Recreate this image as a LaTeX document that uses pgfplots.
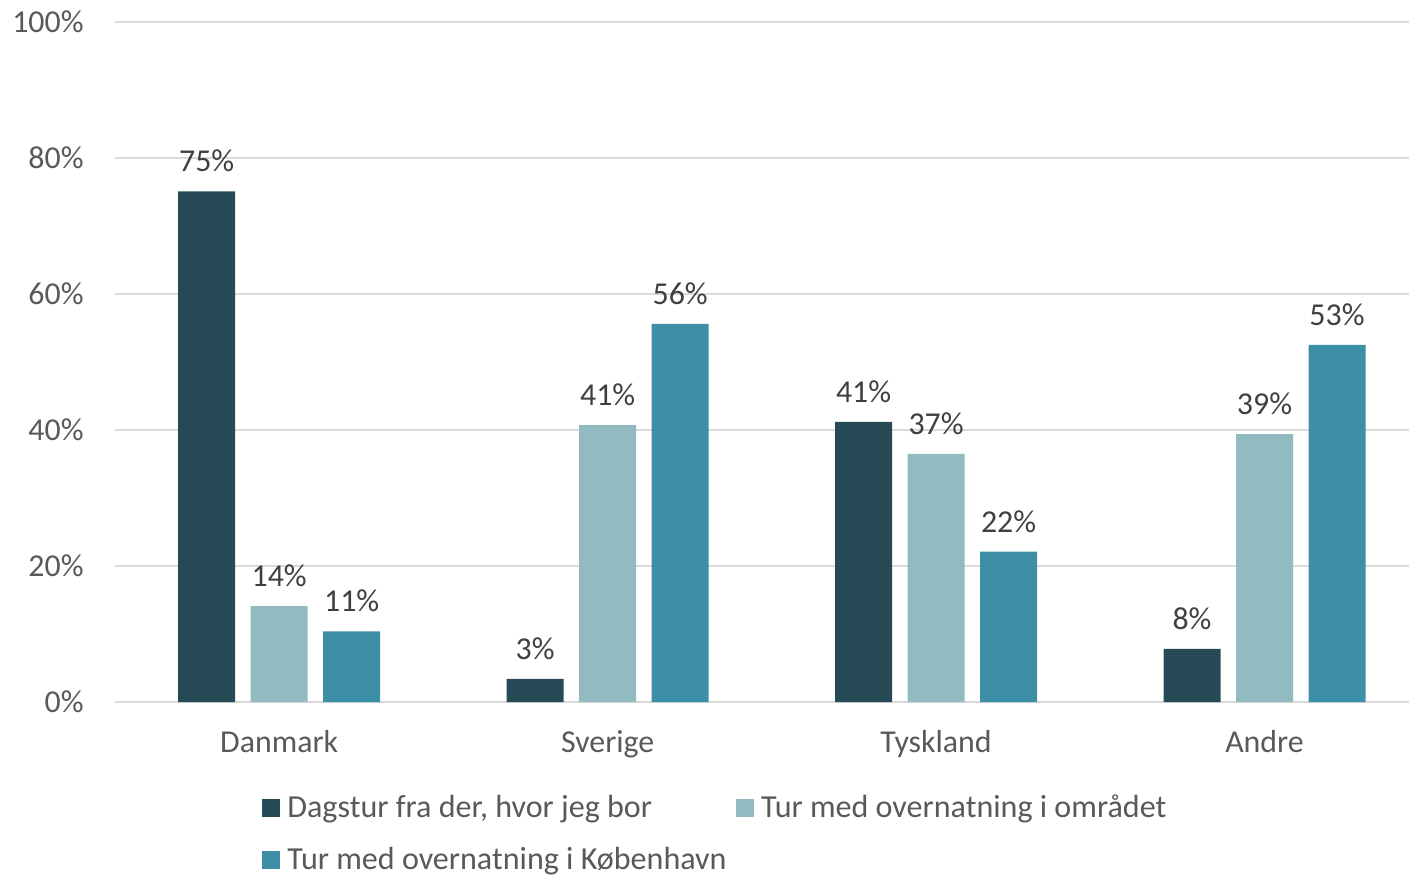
\documentclass[border=0pt]{standalone}
\usepackage{pgfplots}
\pgfplotsset{compat=1.18}
\usepackage{fontspec}
\setmainfont{Carlito}
\definecolor{c1}{HTML}{264B57}
\definecolor{c2}{HTML}{92BAC1}
\definecolor{c3}{HTML}{3D8EA7}
\definecolor{txt}{HTML}{595959}
\definecolor{lab}{HTML}{404040}
\definecolor{gridc}{HTML}{D9D9D9}
\pgfplotsset{sq/.style={legend image code/.code={\fill[##1] (0bp,-4.5bp) rectangle (9bp,4.5bp);}}}
\begin{document}
\begin{tikzpicture}
\useasboundingbox (-57.5bp,-87bp) rectangle (647bp,351bp);
\begin{axis}[
  at={(0,0)}, anchor=south west,
  scale only axis, width=647bp, height=340bp,
  xmin=-0.5, xmax=3.44, ymin=0, ymax=100,
  ybar=7.75bp, bar width=28.5bp,
  axis line style={draw=none},
  ymajorgrids, grid style={line width=1bp, color=gridc},
  xtick={0,1,2,3}, xticklabels={Danmark,Sverige,Tyskland,Andre},
  ytick={0,20,40,60,80,100},
  yticklabels={0\%,20\%,40\%,60\%,80\%,100\%},
  major tick length=0pt, tick style={draw=none},
  ticklabel style={font=\fontsize{16}{19}\selectfont, text=txt},
  yticklabel style={anchor=east, inner sep=0pt, xshift=-15.5bp},
  xticklabel style={anchor=north, inner sep=0pt, yshift=-14bp},
  /pgf/number format/assume math mode=true,
  point meta=explicit,
  nodes near coords={\pgfmathprintnumber{\pgfplotspointmeta}\%},
  every node near coord/.append style={font=\fontsize{16}{19}\selectfont, text=lab, inner sep=0pt, anchor=south, yshift=9.5bp},
  legend columns=2,
  legend cell align=left,
  legend style={draw=none, fill=none, inner sep=0pt, at={(0.1136,-0.1295)}, anchor=north west,
    font=\fontsize{16.1}{19}\selectfont, text=txt, row sep=8.6bp,
    /tikz/every even column/.append style={column sep=1.25bp},
    nodes={inner xsep=3.5bp, inner ysep=2.25bp}},
]
\addplot[fill=c1, draw=none, sq] coordinates {(0,75.1) [75] (1,3.4) [3] (2,41.2) [41] (3,7.8) [8]};
\addplot[fill=c2, draw=none, sq] coordinates {(0,14.1) [14] (1,40.7) [41] (2,36.5) [37] (3,39.4) [39]};
\addplot[fill=c3, draw=none, sq] coordinates {(0,10.4) [11] (1,55.6) [56] (2,22.1) [22] (3,52.5) [53]};
\legend{{Dagstur fra der, hvor jeg bor}, {Tur med overnatning i området}, {Tur med overnatning i København}}
\end{axis}
\end{tikzpicture}
\end{document}
